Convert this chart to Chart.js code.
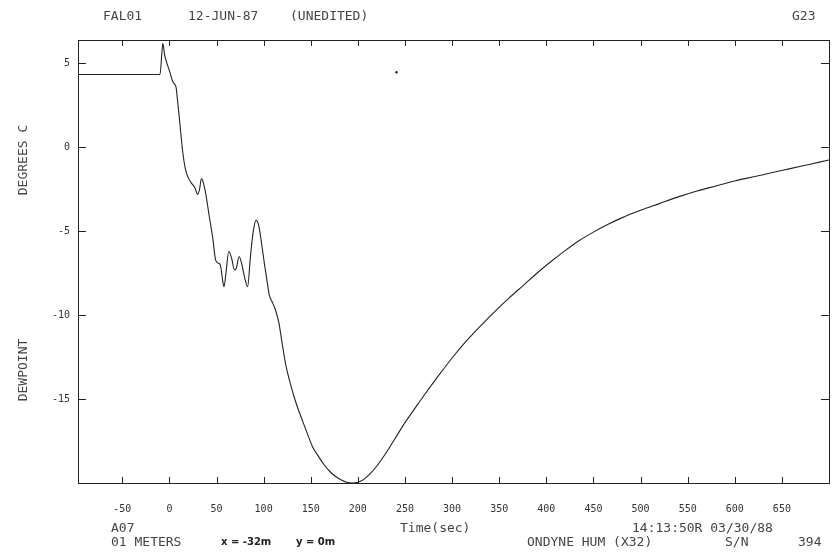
<!DOCTYPE html>
<html>
<head>
<meta charset="utf-8">
<script src="https://cdn.jsdelivr.net/npm/chart.js@4/dist/chart.umd.min.js"></script>
<style>
  body { margin: 0; background: #fff; }
  #wrap { position: relative; width: 837px; height: 554px; }
  .t { position: absolute; font-family: "DejaVu Sans Mono", monospace; font-size: 13px; color: #444; white-space: pre; line-height: 1; }
  .b { font-family: "DejaVu Sans", sans-serif; font-size: 10px; font-weight: bold; color: #222; }
  .rot { transform: translate(-50%, -50%) rotate(-90deg); }
</style>
</head>
<body>
<div id="wrap">
  <canvas id="chart" width="837" height="554"></canvas>
  <div class="t" style="left:103px;top:9px">FAL01</div>
  <div class="t" style="left:188px;top:9px">12-JUN-87</div>
  <div class="t" style="left:290px;top:9px">(UNEDITED)</div>
  <div class="t" style="left:792px;top:9px">G23</div>
  <div class="t rot" style="left:22px;top:160px">DEGREES C</div>
  <div class="t rot" style="left:22px;top:370px">DEWPOINT</div>
  <div class="t" style="left:111px;top:521px">A07</div>
  <div class="t" style="left:111px;top:535px">01 METERS</div>
  <div class="t b" style="left:221px;top:537px">x = -32m</div>
  <div class="t b" style="left:296px;top:537px">y = 0m</div>
  <div class="t" style="left:400px;top:521px">Time(sec)</div>
  <div class="t" style="left:632px;top:521px">14:13:50R 03/30/88</div>
  <div class="t" style="left:527px;top:535px">ONDYNE HUM (X32)</div>
  <div class="t" style="left:725px;top:535px">S/N</div>
  <div class="t" style="left:798px;top:535px">394</div>
</div>
<script>
// dewpoint trace
const timeSec = [-97, -10, -8, -7, -5, -2, 1, 3, 5, 7, 9, 11, 14, 17, 20, 23, 27, 30, 32, 34, 36, 39, 42, 46, 49, 52, 54, 57, 58, 60, 63, 66, 69, 71, 74, 77, 80, 83, 86, 89, 92, 95, 98, 101, 104, 106, 109, 112, 116, 120, 124, 128, 132, 136, 140, 146, 152, 158, 164, 170, 176, 182, 188, 194, 200, 206, 212, 220, 230, 240, 250, 260, 270, 285, 300, 315, 330, 345, 360, 375, 390, 405, 420, 435, 450, 465, 480, 500, 520, 540, 560, 580, 600, 620, 640, 660, 680, 700];
const dewpoint = [4.34, 4.34, 5.6, 6.2, 5.5, 4.9, 4.4, 4.0, 3.8, 3.6, 2.6, 1.5, -0.2, -1.3, -1.8, -2.1, -2.4, -2.8, -2.5, -1.85, -2.1, -2.9, -4.0, -5.4, -6.7, -6.9, -7.0, -8.1, -8.3, -7.5, -6.2, -6.6, -7.3, -7.2, -6.5, -7.0, -7.8, -8.3, -6.5, -5.0, -4.35, -4.7, -5.8, -7.0, -8.1, -8.8, -9.2, -9.6, -10.4, -11.8, -13.1, -14.0, -14.8, -15.5, -16.1, -17.0, -17.85, -18.4, -18.9, -19.3, -19.6, -19.8, -19.95, -20.0, -19.95, -19.8, -19.5, -19.0, -18.2, -17.3, -16.4, -15.6, -14.8, -13.65, -12.55, -11.55, -10.65, -9.8, -9.0, -8.25, -7.5, -6.8, -6.15, -5.55, -5.05, -4.6, -4.2, -3.75, -3.35, -2.95, -2.6, -2.3, -2.0, -1.75, -1.5, -1.25, -1.0, -0.75];

// stray plotter dot
const dotTime = [241];
const dotDew = [4.48];

const xTicks = [-50, 0, 50, 100, 150, 200, 250, 300, 350, 400, 450, 500, 550, 600, 650];
const yTicks = [5, 0, -5, -10, -15];

const ink = '#222';

// border box with inward ticks on all four sides
const frame = {
  id: 'frame',
  afterDraw(chart) {
    const ctx = chart.ctx;
    const a = chart.chartArea;
    const sx = chart.scales.x, sy = chart.scales.y;
    ctx.save();
    ctx.strokeStyle = ink;
    ctx.lineWidth = 1;
    ctx.strokeRect(Math.round(a.left) + 0.5, Math.round(a.top) + 0.5,
      Math.round(a.right - a.left), Math.round(a.bottom - a.top));
    ctx.beginPath();
    xTicks.forEach(v => {
      const px = Math.round(sx.getPixelForValue(v)) + 0.5;
      ctx.moveTo(px, a.bottom); ctx.lineTo(px, a.bottom - 6);
      ctx.moveTo(px, a.top); ctx.lineTo(px, a.top + 6);
    });
    yTicks.forEach(v => {
      const py = Math.round(sy.getPixelForValue(v)) + 0.5;
      ctx.moveTo(a.left, py); ctx.lineTo(a.left + 8, py);
      ctx.moveTo(a.right, py); ctx.lineTo(a.right - 8, py);
    });
    ctx.stroke();
    ctx.restore();
  }
};

const tickFont = { family: 'DejaVu Sans Mono', size: 10 };

new Chart(document.getElementById('chart'), {
  type: 'line',
  data: {
    datasets: [
      {
        data: timeSec.map((t, i) => ({ x: t, y: dewpoint[i] })),
        borderColor: ink,
        borderWidth: 1.1,
        pointRadius: 0,
        cubicInterpolationMode: 'monotone',
        fill: false
      },
      {
        type: 'scatter',
        data: dotTime.map((t, i) => ({ x: t, y: dotDew[i] })),
        pointRadius: 1.2,
        backgroundColor: ink,
        borderWidth: 0
      }
    ]
  },
  options: {
    responsive: false,
    animation: false,
    layout: { padding: { top: 40, right: 8, bottom: 31, left: 0 } },
    plugins: { legend: { display: false }, tooltip: { enabled: false } },
    scales: {
      x: {
        type: 'linear',
        min: -97,
        max: 700,
        afterBuildTicks: s => { s.ticks = xTicks.map(v => ({ value: v })); },
        afterFit: s => { s.height = 40; },
        grid: { display: false, drawTicks: false },
        border: { display: false },
        ticks: { padding: 20, font: tickFont, color: '#333', maxRotation: 0 }
      },
      y: {
        min: -20,
        max: 6.4,
        afterBuildTicks: s => { s.ticks = yTicks.map(v => ({ value: v })); },
        afterFit: s => { s.width = 78; },
        grid: { display: false, drawTicks: false },
        border: { display: false },
        ticks: { padding: 8, font: tickFont, color: '#333' }
      }
    }
  },
  plugins: [frame]
});
</script>
</body>
</html>
